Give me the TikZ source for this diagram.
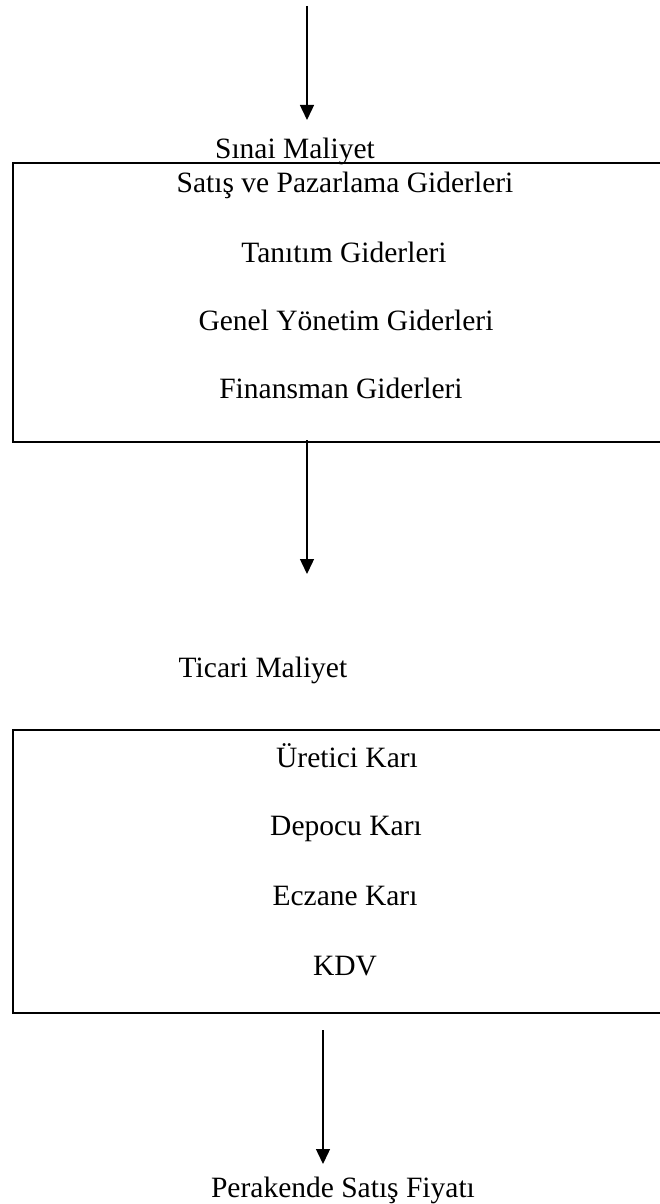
\documentclass[tikz,border=0pt]{standalone}
\usepackage{fontspec}
\setmainfont{Liberation Serif}
\usetikzlibrary{arrows.meta}
\begin{document}
\begin{tikzpicture}[x=1pt,y=-1pt,
  lbl/.style={inner sep=0pt,anchor=base,font=\fontsize{29.5}{34}\selectfont},
  arr/.style={line width=1.4pt,-{Triangle[width=14pt,length=15pt]}},
  boxline/.style={line width=1.6pt}]
\useasboundingbox (0,0) rectangle (659,1204);
% top arrow
\coordinate (a1s) at (307,6);
\coordinate (a1e) at (307,120);
\draw[arr] (a1s) -- (a1e);
\node[lbl] (sinai) at (295,158) {Sınai Maliyet};
% box 1
\draw[boxline] (662,163) -- (13,163) -- (13,442) -- (662,442);
\node[lbl] (b1a) at (345,192) {Satış ve Pazarlama Giderleri};
\node[lbl] (b1b) at (344,262) {Tanıtım Giderleri};
\node[lbl] (b1c) at (346,330) {Genel Yönetim Giderleri};
\node[lbl] (b1d) at (341,398) {Finansman Giderleri};
% arrow 2
\coordinate (a2s) at (307,440);
\coordinate (a2e) at (307,574);
\draw[arr] (a2s) -- (a2e);
\node[lbl] (ticari) at (263,677) {Ticari Maliyet};
% box 2
\draw[boxline] (662,730) -- (13,730) -- (13,1013) -- (662,1013);
\node[lbl] (b2a) at (347,767) {Üretici Karı};
\node[lbl] (b2b) at (346,835) {Depocu Karı};
\node[lbl] (b2c) at (345,905) {Eczane Karı};
\node[lbl] (b2d) at (345,975) {KDV};
% arrow 3
\coordinate (a3s) at (323,1030);
\coordinate (a3e) at (323,1164);
\draw[arr] (a3s) -- (a3e);
\node[lbl] (perak) at (343,1197) {Perakende Satış Fiyatı};
\end{tikzpicture}
\end{document}
